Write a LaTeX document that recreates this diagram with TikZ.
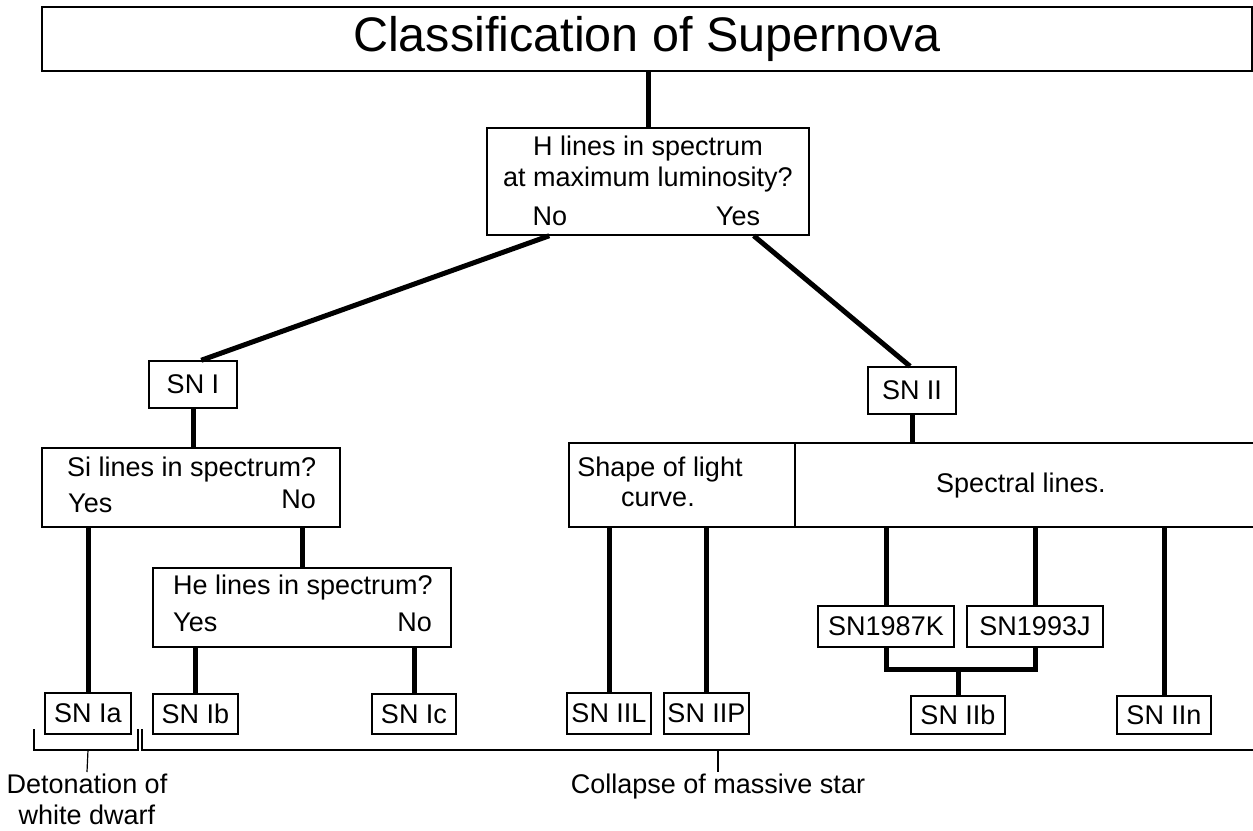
\documentclass[tikz,border=0pt]{standalone}
\usepackage{fontspec}
\setmainfont{Liberation Sans}
\usetikzlibrary{calc}
\tikzset{bx/.style = {rectangle, draw, line width=1.5pt, inner sep=0pt, font=\fontsize{27}{30}\selectfont},
         tx/.style = {anchor=base, inner sep=0pt, font=\fontsize{27}{30}\selectfont},
         ln/.style = {line width=5pt},
         br/.style = {line width=1.2pt}}

\begin{document}
\begin{tikzpicture}[x=1pt, y=-1pt]
    \useasboundingbox (0,0) rectangle (1253,830);
    \node[bx, minimum width=1210, minimum height=64, font=\fontsize{48.5}{54}\selectfont] (cls) at (647,39) {Classification of Supernova};
    \node[bx, minimum width=322, minimum height=107] (q) at (648,181.5) {};
    \node[tx] (qa) at (648,155) {H lines in spectrum}; \node[tx] (qb) at (648,186) {at maximum luminosity?};
    \node[tx] (qno) at (550,225) {No}; \node[tx] (qyes) at (738,225) {Yes};
    \node[bx, minimum width=88, minimum height=47] (sn1) at (193,384.5) {SN I};
    \node[bx, minimum width=88, minimum height=47] (sn2) at (912,390.5) {SN II};
    \node[bx, minimum width=298, minimum height=79] (si) at (191,487.5) {};
    \node[tx, anchor=base west] (sia) at (67,476) {Si lines in spectrum?};
    \node[tx, anchor=base west] (siyes) at (68,512) {Yes}; \node[tx, anchor=base east] (sino) at (316,508) {No};
    \node[bx, minimum width=298, minimum height=79] (he) at (302,607.5) {};
    \node[tx, anchor=base west] (hea) at (173,594) {He lines in spectrum?};
    \node[tx, anchor=base west] (heyes) at (173,631) {Yes}; \node[tx, anchor=base east] (heno) at (432,631) {No};
    \node[bx, minimum width=226, minimum height=84] (lc) at (682,485) {};
    \node[tx] (lca) at (660,476) {Shape of light}; \node[tx] (lcb) at (658,506) {curve.};
    \node[bx, minimum width=461, minimum height=84] (sp) at (1025.5,485) {};
    \node[tx] (spa) at (1021,492) {Spectral lines.};
    \node[bx, minimum width=136, minimum height=41] (k87) at (886,626.5) {SN1987K};
    \node[bx, minimum width=136, minimum height=41] (j93) at (1035,626.5) {SN1993J};
    \node[bx, minimum width=86, minimum height=41] (ia) at (88,713.5) {SN Ia};
    \node[bx, minimum width=85, minimum height=40] (ib) at (195.5,714) {SN Ib};
    \node[bx, minimum width=84, minimum height=40] (ic) at (414,714) {SN Ic};
    \node[bx, minimum width=84, minimum height=41] (iil) at (609,713.5) {SN IIL};
    \node[bx, minimum width=85, minimum height=41] (iip) at (706.5,713.5) {SN IIP};
    \node[bx, minimum width=94, minimum height=38] (iib) at (958,715) {SN IIb};
    \node[bx, minimum width=94, minimum height=38] (iin) at (1164,715) {SN IIn};
    \draw[ln] (q.north) -- (q.north |- cls.south);
    \draw[ln] ($(q.south west)+(63,0)$) -- ($(sn1.north west)+(53,0)$);
    \draw[ln] ($(q.south east)+(-56,0)$) -- ($(sn2.north)+(-2,0)$);
    \draw[ln] (sn1.south) -- (sn1.south |- si.north);
    \draw[ln] (sn2.south) -- (sn2.south |- sp.north);
    \draw[ln] (ia.north) -- (ia.north |- si.south);
    \draw[ln] (he.north) -- (he.north |- si.south);
    \draw[ln] (ib.north) -- (ib.north |- he.south);
    \draw[ln] (ic.north) -- (ic.north |- he.south);
    \draw[ln] (iil.north) -- (iil.north |- lc.south);
    \draw[ln] (iip.north) -- (iip.north |- lc.south);
    \draw[ln] (k87.north) -- (k87.north |- sp.south);
    \draw[ln] (j93.north) -- (j93.north |- sp.south);
    \draw[ln] (iin.north) -- (iin.north |- sp.south);
    \coordinate (m) at (958,669);
    \draw[ln] (k87.south) |- (m) -| (j93.south);
    \draw[ln] (m) -- (iib.north);
    \coordinate (dl) at (34,729); \coordinate (dr) at (138,729); \coordinate (dm) at (88,750);
    \coordinate (cl) at (142,729); \coordinate (cr) at (1254,750); \coordinate (cm) at (718,750);
    \node[tx, anchor=north, align=center, inner sep=2pt, font=\fontsize{27}{31}\selectfont] (det) at (87,772) {Detonation of\\white dwarf};
    \node[tx, anchor=north, inner sep=2pt] (col) at (718,772) {Collapse of massive star};
    \draw[br] (dl) -- ++(0,21) -| (dr);
    \draw[br] (cl) |- (cr);
    \draw[br] (dm) -- (det.north);
    \draw[br] (cm) -- (col.north);
  \end{tikzpicture}
\end{document}
